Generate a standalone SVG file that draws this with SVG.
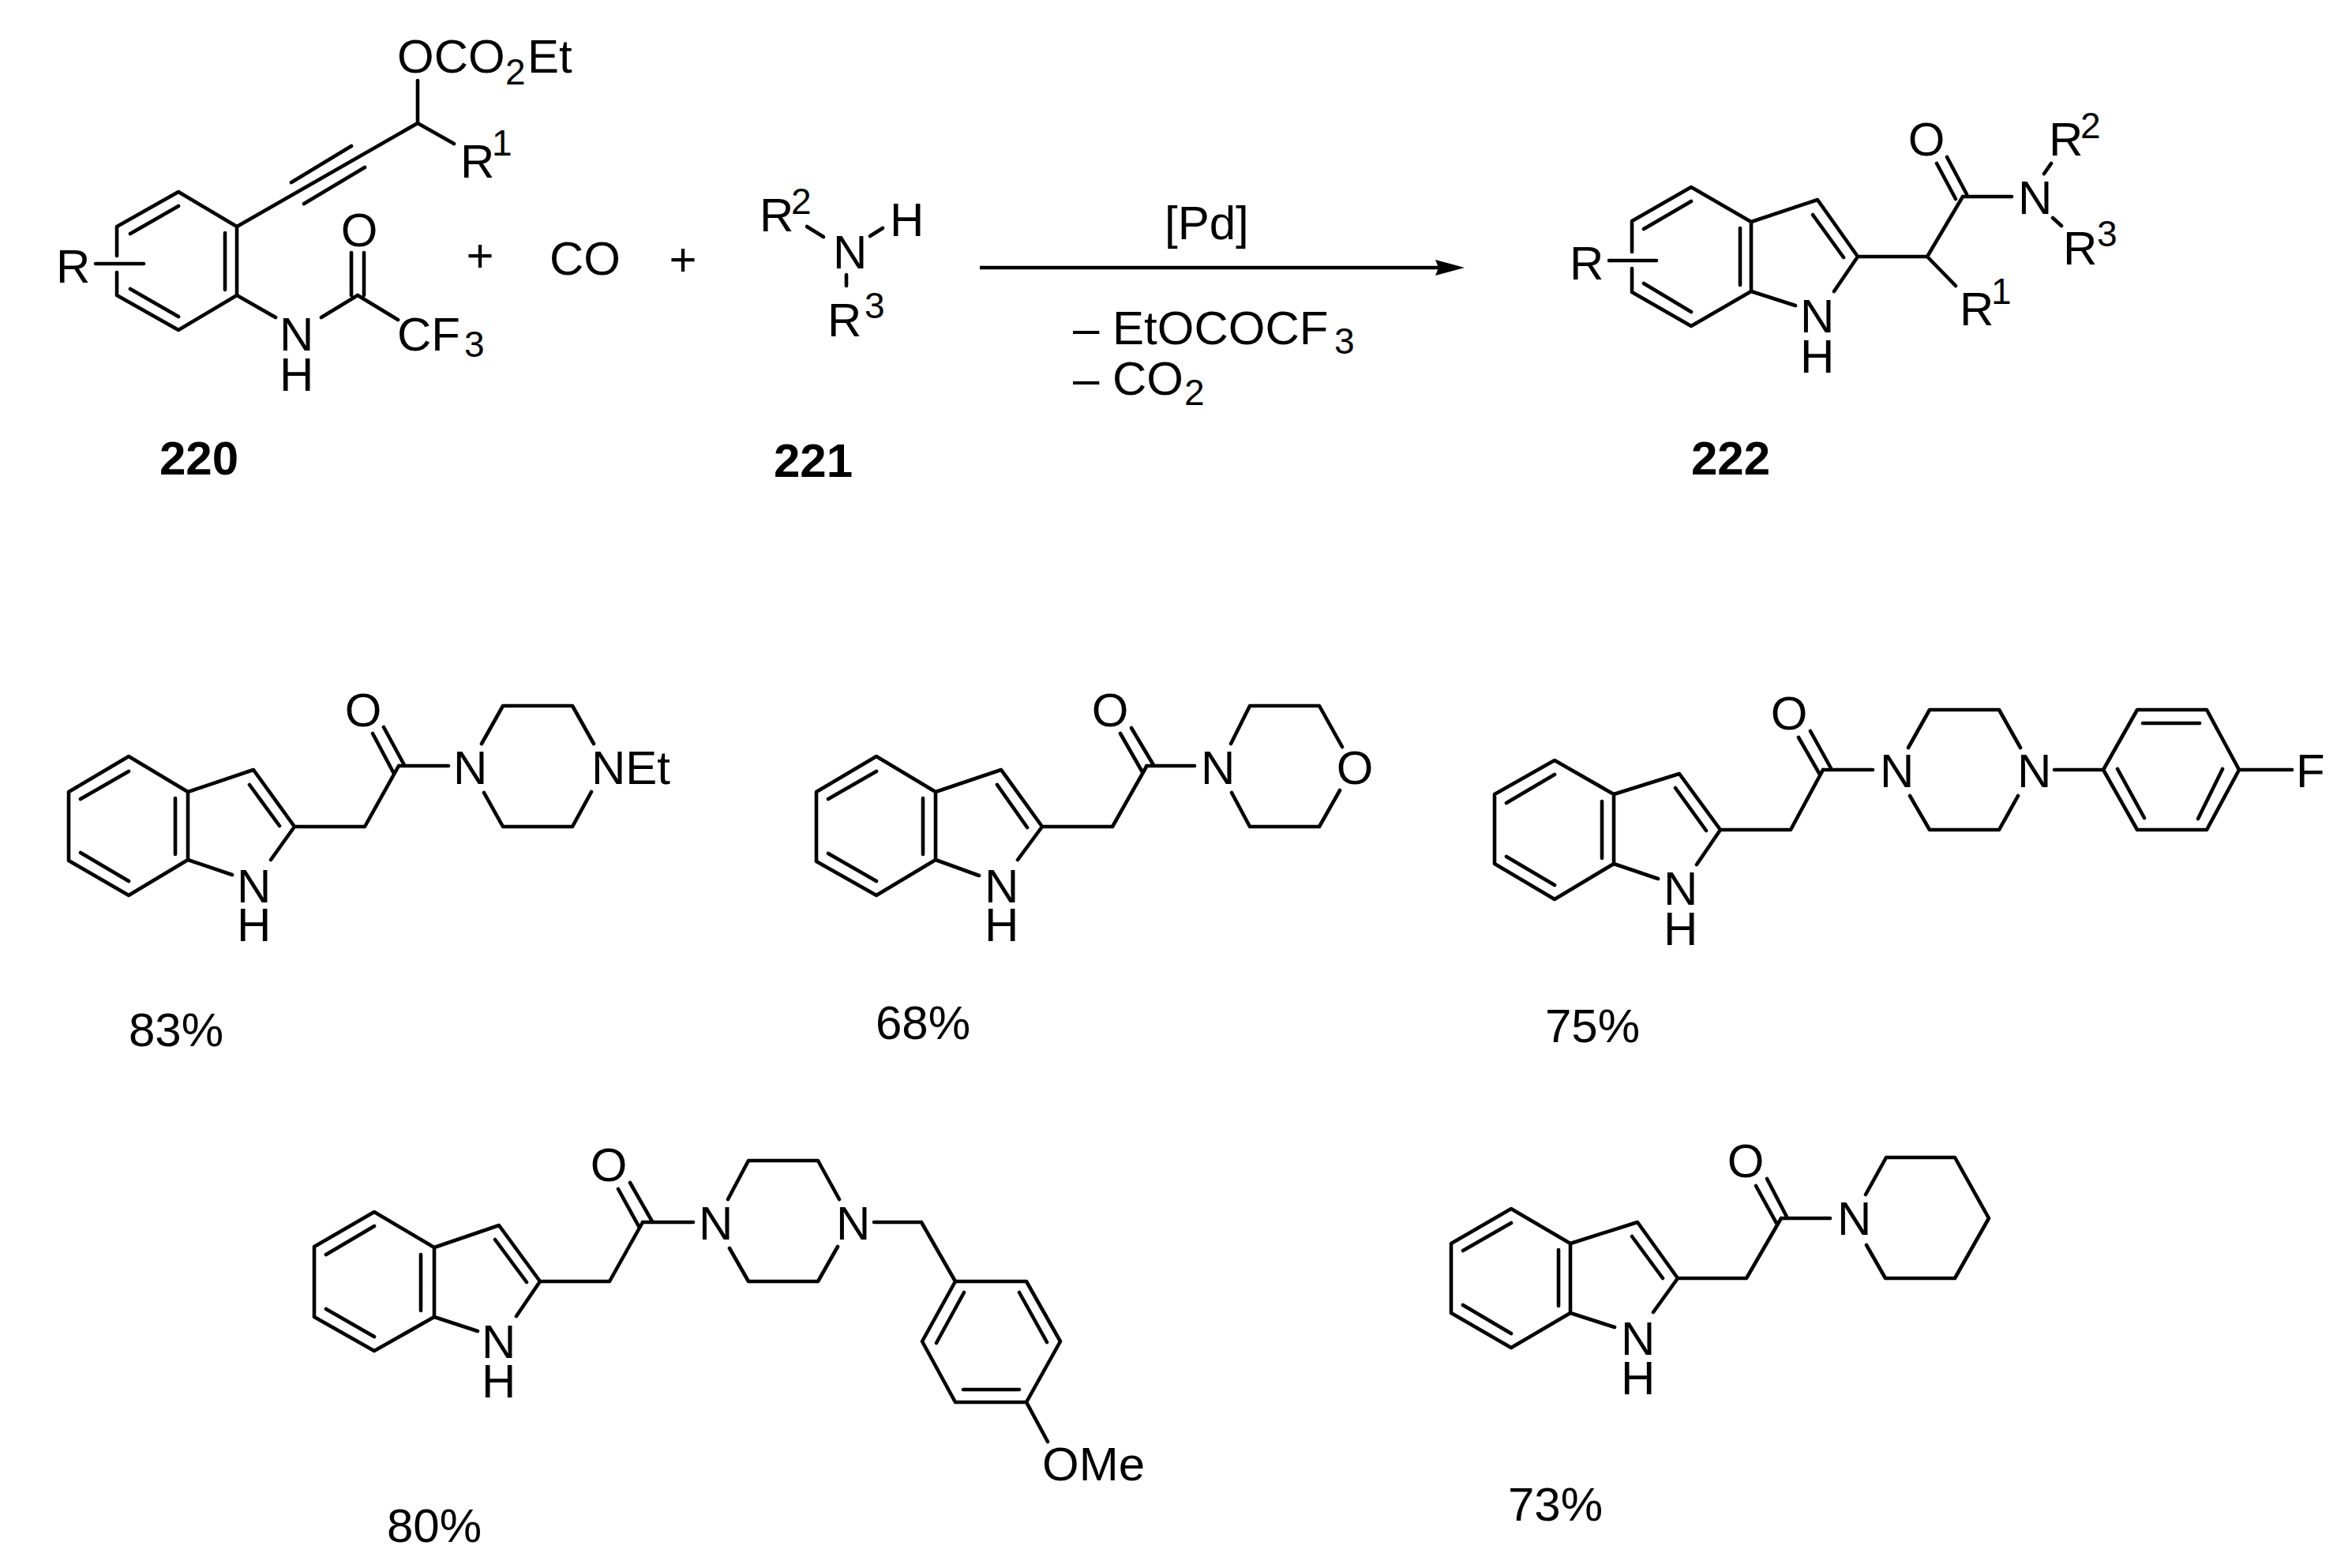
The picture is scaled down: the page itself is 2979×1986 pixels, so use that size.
<svg xmlns="http://www.w3.org/2000/svg" width="2979" height="1986" viewBox="0 0 2979 1986">
<defs>
<style>
text{font-family:"Liberation Sans",Arial,sans-serif;font-size:60px;fill:#000}
.bd{font-weight:700}
.s{font-size:46px}
.b{fill:none;stroke:#000;stroke-width:4.6;stroke-linecap:round;stroke-linejoin:round}
.c{text-anchor:middle}
</style>
</defs>
<rect width="2979" height="1986" fill="#fff"/>
<g id="compound-220">
<path class="b" d="M148 324V287L226 243L300 287V374L226 418L148 374V345M226 261L165 296M285 295V367M165 366L226 401M121 334H182M300 287L529 156M369 231L445 185M385 258L462 212M529 156V102M529 156L575 182M445 320V374M461 320V374M453 374L407 402M453 374L504 405M300 374L349 402"/>
<text x="71" y="358">R</text>
<text x="503" y="92">OCO<tspan class="s" x="640" y="107">2</tspan><tspan x="668" y="92">Et</tspan></text>
<text x="583" y="225">R<tspan class="s" x="623" y="197">1</tspan></text>
<text x="455" y="312" class="c">O</text>
<text x="354" y="444">N<tspan x="354" y="495">H</tspan></text>
<text x="503" y="444">CF<tspan class="s" x="588" y="452">3</tspan></text>
<text x="252" y="601" class="c bd">220</text>
</g>
<g id="plus-1"><text x="608" y="344" class="c">+</text></g>
<g id="carbon-monoxide"><text x="696" y="348">CO</text></g>
<g id="plus-2"><text x="865" y="349" class="c">+</text></g>
<g id="compound-221">
<path class="b" d="M1022 287L1043 300M1102 299L1118 289M1072 348V362"/>
<text x="962" y="293">R<tspan class="s" x="1002" y="271">2</tspan></text>
<text x="1055" y="340">N<tspan x="1127" y="299">H</tspan></text>
<text x="1048" y="426">R<tspan class="s" x="1095" y="403">3</tspan></text>
<text x="1030" y="604" class="c bd">221</text>
</g>
<g id="connectors">
<path d="M1241 339H1822" fill="none" stroke="#000" stroke-width="4.5"/>
<polygon points="1855,339 1818,329 1822,339 1818,349" fill="#000"/>
</g>
<g id="conditions">
<text x="1475" y="303">[Pd]</text>
<text x="1359" y="436">– EtOCOCF<tspan class="s" x="1690" y="448">3</tspan></text>
<text x="1359" y="500">– CO<tspan class="s" x="1500" y="513">2</tspan></text>
</g>
<g id="compound-222">
<path class="b" d="M2067 319V280L2142 237L2218 281V369L2142 413L2067 370V340M2142 255L2082 290M2204 289V361M2082 359L2142 395M2218 281L2302 253L2353 325L2323 369M2296 272L2335 326M2218 369L2274 387M2353 325H2441L2486 249M2441 325L2477 362M2491 246L2466 199M2477 252L2453 207M2486 249H2548M2589 220L2598 207M2600 276L2611 286M2038 330H2098"/>
<text x="1988" y="354">R</text>
<text x="2280" y="421">N<tspan x="2280" y="472">H</tspan></text>
<text x="2482" y="412">R<tspan class="s" x="2522" y="385">1</tspan></text>
<text x="2440" y="197" class="c">O</text>
<text x="2556" y="271">N</text>
<text x="2595" y="197">R<tspan class="s" x="2635" y="175">2</tspan></text>
<text x="2613" y="335">R<tspan class="s" x="2656" y="312">3</tspan></text>
<text x="2192" y="601" class="c bd">222</text>
</g>
<g id="product-83">
<path class="b" d="M163 958L238 1003V1089L163 1134L87 1090V1003ZM163 977L102 1012M222 1011V1082M102 1080L163 1116M238 1003L321 975L373 1047L343 1089M316 994L354 1046M238 1089L294 1108M373 1047H462L505 970M512 969L486 921M498 978L472 929M505 970H568M610 942L637 894H725L752 942M749 1003L725 1047H637L613 1004"/>
<text x="300" y="1143">N<tspan x="300" y="1192">H</tspan></text>
<text x="460" y="920" class="c">O</text>
<text x="574" y="993">N</text>
<text x="749" y="993">NEt</text>
<text x="163" y="1325">83%</text>
</g>
<g id="product-68">
<path class="b" d="M1110 958L1185 1003V1089L1110 1134L1034 1091V1003ZM1110 977L1049 1012M1169 1011V1082M1049 1081L1110 1116M1185 1003L1268 975L1320 1047L1289 1089M1263 994L1301 1048M1185 1089L1240 1109M1320 1047H1409L1452 971M1461 969L1433 922M1447 978L1419 929M1452 970H1513M1559 942L1583 894H1671L1700 946M1697 1001L1671 1047H1583L1560 1004"/>
<text x="1247" y="1143">N<tspan x="1247" y="1192">H</tspan></text>
<text x="1406" y="920" class="c">O</text>
<text x="1521" y="993">N</text>
<text x="1716" y="993" class="c">O</text>
<text x="1109" y="1316">68%</text>
</g>
<g id="product-75">
<path class="b" d="M1969 963L2044 1006V1094L1969 1139L1893 1094V1006ZM1969 981L1908 1017M2029 1015V1087M1908 1085L1969 1121M2044 1006L2127 980L2179 1051L2149 1095M2122 998L2161 1052M2044 1094L2100 1113M2179 1051H2268L2309 975M2319 973L2293 926M2305 981L2278 934M2309 975H2372M2417 947L2444 899H2532L2559 947M2556 1008L2532 1051H2444L2419 1008M2602 975H2664M2664 975L2707 899H2795L2836 975L2795 1051H2707ZM2714 916H2786M2682 974L2716 1036M2815 974L2784 1037M2836 975H2903"/>
<text x="2107" y="1146">N<tspan x="2107" y="1197">H</tspan></text>
<text x="2266" y="924" class="c">O</text>
<text x="2381" y="997">N</text>
<text x="2555" y="997">N</text>
<text x="2908" y="997">F</text>
<text x="1957" y="1320">75%</text>
</g>
<g id="product-80">
<path class="b" d="M474 1535L550 1580V1668L474 1711L398 1668V1579ZM474 1553L413 1589M533 1589V1660M413 1658L474 1693M550 1580L632 1552L684 1623L654 1667M627 1570L667 1624M550 1668L605 1686M684 1623H772L814 1548M826 1547L798 1498M810 1555L783 1506M814 1548H878M922 1519L948 1470H1036L1063 1519M1061 1579L1036 1623H948L924 1581M1107 1548H1167L1210 1623M1210 1623H1300L1343 1699L1300 1776H1210L1168 1699ZM1221 1637L1186 1701M1291 1637L1326 1700M1220 1760H1291M1300 1776L1327 1826"/>
<text x="610" y="1720">N<tspan x="610" y="1770">H</tspan></text>
<text x="771" y="1496" class="c">O</text>
<text x="885" y="1570">N</text>
<text x="1059" y="1570">N</text>
<text x="1320" y="1875">OMe</text>
<text x="490" y="1953">80%</text>
</g>
<g id="product-73">
<path class="b" d="M1914 1531L1989 1575V1663L1914 1707L1838 1663V1575ZM1914 1549L1853 1584M1974 1583V1654M1853 1653L1914 1689M1989 1575L2074 1548L2125 1619L2094 1662M2067 1566L2106 1619M1989 1663L2045 1681M2125 1619H2212L2256 1543M2263 1541L2238 1493M2251 1551L2224 1502M2256 1543H2318M2363 1513L2389 1466H2476L2519 1543L2476 1619H2388L2364 1577"/>
<text x="2053" y="1716">N<tspan x="2053" y="1766">H</tspan></text>
<text x="2211" y="1491" class="c">O</text>
<text x="2327" y="1564">N</text>
<text x="1910" y="1926">73%</text>
</g>
</svg>
